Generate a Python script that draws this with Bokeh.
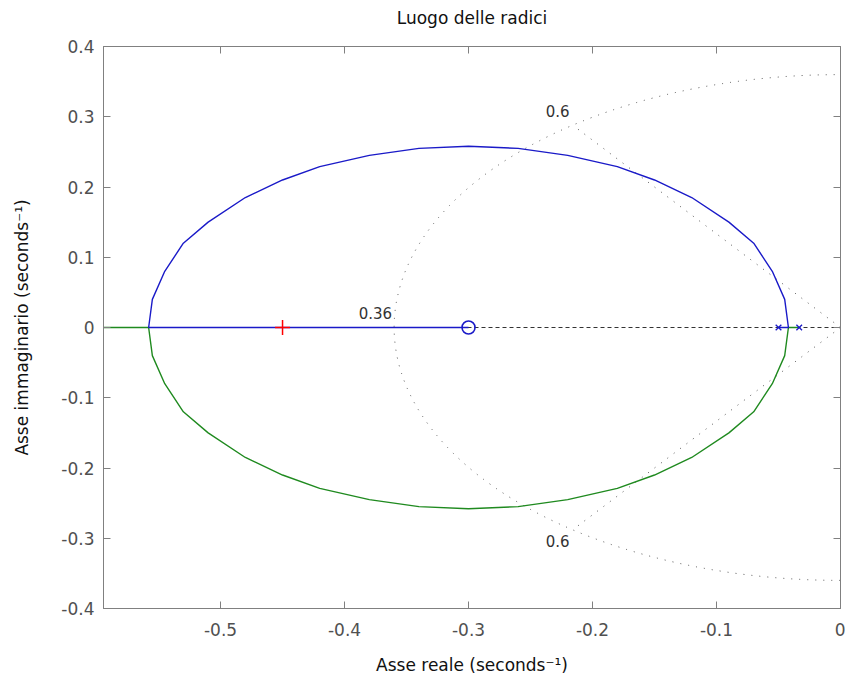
import math
from bokeh.plotting import figure
from bokeh.models import Range1d, LinearAxis, FixedTicker, Label
from bokeh.embed import file_html
from bokeh.resources import INLINE

# ---- data ----
POLES = [-0.05, -0.0333]
ZEROS = [-0.30]
SELECTED = [-0.45]
BREAK_IN = -0.0415
BREAK_AWAY = -0.558

ARC_X = [-0.042, -0.045, -0.055, -0.07, -0.09, -0.12, -0.15, -0.18, -0.22, -0.26,
         -0.30, -0.34, -0.38, -0.42, -0.45, -0.48, -0.51, -0.53, -0.545, -0.555, -0.558]
ARC_UP = [0.0, 0.04, 0.08, 0.12, 0.15, 0.185, 0.21, 0.229, 0.245, 0.255,
          0.258, 0.255, 0.245, 0.229, 0.21, 0.185, 0.15, 0.12, 0.08, 0.04, 0.0]
ARC_DOWN = [-0.0, -0.04, -0.08, -0.12, -0.15, -0.185, -0.21, -0.229, -0.245, -0.255,
            -0.258, -0.255, -0.245, -0.229, -0.21, -0.185, -0.15, -0.12, -0.08, -0.04, -0.0]

ZETA = [0.6]
WN = [0.36]

X_TICKS = [-0.5, -0.4, -0.3, -0.2, -0.1, 0.0]
X_LABELS = ["-0.5", "-0.4", "-0.3", "-0.2", "-0.1", "0"]
Y_TICKS = [-0.4, -0.3, -0.2, -0.1, 0.0, 0.1, 0.2, 0.3, 0.4]
Y_LABELS = ["-0.4", "-0.3", "-0.2", "-0.1", "0", "0.1", "0.2", "0.3", "0.4"]

TITLE = "Luogo delle radici"
X_TITLE = "Asse reale (seconds\u207b\u00b9)"
Y_TITLE = "Asse immaginario (seconds\u207b\u00b9)"

X_MIN, X_MAX = -0.5944, 0.0
Y_MIN, Y_MAX = -0.4, 0.4

FONT = "DejaVu Sans"
BLUE = "#1a1ac8"
GREEN = "#1f8a1f"
AXC = "#808080"

p = figure(width=845, height=684, x_range=Range1d(X_MIN, X_MAX), y_range=Range1d(Y_MIN, Y_MAX),
           output_backend="svg", toolbar_location=None, title=TITLE,
           min_border_left=103, min_border_right=5, min_border_top=45, min_border_bottom=76)
p.background_fill_color = "white"
p.border_fill_color = "white"
p.outline_line_color = AXC
p.xgrid.visible = False
p.ygrid.visible = False

p.title.align = "center"
p.title.text_font = FONT
p.title.text_font_size = "17px"
p.title.text_font_style = "normal"
p.title.text_color = "#111111"

p.add_layout(LinearAxis(), "right")
p.add_layout(LinearAxis(), "above")

for ax in p.xaxis:
    ax.ticker = FixedTicker(ticks=X_TICKS)
    ax.major_label_overrides = {t: l for t, l in zip(X_TICKS, X_LABELS)}
for ax in p.yaxis:
    ax.ticker = FixedTicker(ticks=Y_TICKS)
    ax.major_label_overrides = {t: l for t, l in zip(Y_TICKS, Y_LABELS)}
for ax in p.xaxis + p.yaxis:
    ax.axis_line_color = AXC
    ax.major_tick_line_color = AXC
    ax.major_tick_in = 7
    ax.major_tick_out = 0
    ax.minor_tick_line_color = None
    ax.major_label_text_font = FONT
    ax.major_label_text_font_size = "17px"
    ax.major_label_text_color = "#505050"
    ax.axis_label_text_font = FONT
    ax.axis_label_text_font_size = "17px"
    ax.axis_label_text_font_style = "normal"
    ax.axis_label_text_color = "#111111"

p.below[0].major_label_standoff = 14
p.below[0].axis_label = X_TITLE
p.below[0].axis_label_standoff = 16
p.left[0].major_label_standoff = 9
p.left[0].axis_label = Y_TITLE
p.left[0].axis_label_standoff = 26
# top and right axes: ticks only
p.above[0].major_label_overrides = {t: "" for t in X_TICKS}
p.right[0].major_label_overrides = {t: "" for t in Y_TICKS}
p.above[0].major_label_standoff = 0
p.right[0].major_label_standoff = 0
# blank spacer label on the top axis lifts the title towards the top edge
p.above[0].axis_label = " "
p.above[0].axis_label_text_font_size = "10px"
p.above[0].axis_label_standoff = 0

# real-axis dashed line (drawn first, under the locus)
p.line([X_MIN, X_MAX], [0, 0], line_color="#333333", line_dash="4 3", line_width=1)

# sgrid (damping ratio lines and natural frequency circle)
for wn in WN:
    p.ellipse(x=[0], y=[0], width=[2 * wn], height=[2 * wn], fill_color=None,
              line_color="#555555", line_dash="1 7", line_width=1)
    p.add_layout(Label(x=-wn, y=0, text=f"{wn:g}", text_align="right", text_baseline="middle",
                       x_offset=-2, y_offset=15, text_font=FONT, text_font_size="15px",
                       text_color="#333333"))
for z in ZETA:
    wn = WN[0]
    s = math.sqrt(1 - z * z)
    p.segment(x0=[0, 0], y0=[0, 0], x1=[-wn * z, -wn * z], y1=[wn * s, -wn * s],
              line_color="#555555", line_dash="1 7", line_width=1)
    p.add_layout(Label(x=-wn * z, y=wn * s, text=f"{z:g}", text_align="center",
                       text_baseline="middle", x_offset=-15, y_offset=14,
                       text_font=FONT, text_font_size="15px", text_color="#333333"))
    p.add_layout(Label(x=-wn * z, y=-wn * s, text=f"{z:g}", text_align="center",
                       text_baseline="middle", x_offset=-15, y_offset=-11,
                       text_font=FONT, text_font_size="15px", text_color="#333333"))

# root locus branches
green_x = [POLES[1], BREAK_IN] + ARC_X + [BREAK_AWAY, -0.7]
green_y = [0, 0] + ARC_DOWN + [0, 0]
blue_x = [POLES[0], BREAK_IN] + ARC_X + [BREAK_AWAY, ZEROS[0]]
blue_y = [0, 0] + ARC_UP + [0, 0]
p.line(green_x, green_y, line_color=GREEN, line_width=1.4)
p.line(blue_x, blue_y, line_color=BLUE, line_width=1.4)

p.scatter(x=POLES, y=[0] * len(POLES), marker="x", size=8, line_color=BLUE, line_width=1.3)
p.scatter(x=ZEROS, y=[0] * len(ZEROS), marker="circle", size=13, fill_color=None,
          line_color=BLUE, line_width=1.6)
p.scatter(x=SELECTED, y=[0] * len(SELECTED), marker="cross", size=15, line_color="#ff0000",
          line_width=1.5)

open("out.html", "w").write(file_html(p, INLINE))
